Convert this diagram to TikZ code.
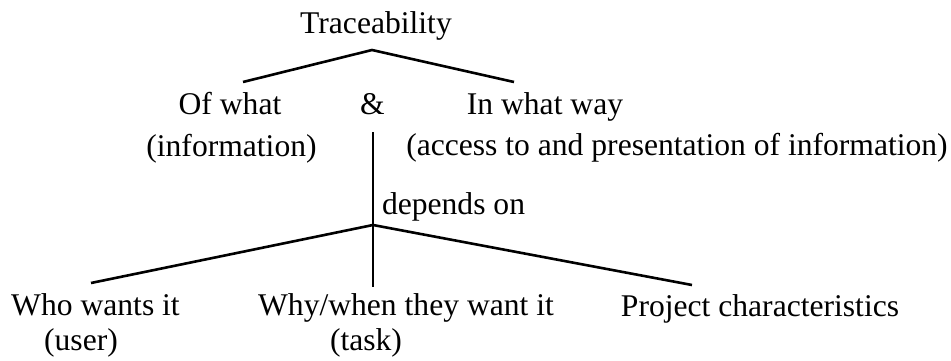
\documentclass[tikz,border=0pt]{standalone}
\usepackage{fontspec}
\setmainfont{Liberation Serif}
\begin{document}
\begin{tikzpicture}[x=1pt,y=-1pt,
  lbl/.style={inner sep=0pt,outer sep=0pt,anchor=base,font=\fontsize{31.6}{36}\selectfont},
  branch/.style={line width=2.6pt,line cap=butt,line join=miter}]
\useasboundingbox (0,0) rectangle (951,361);
% texts
\node[lbl] (trace) at (376,34) {Traceability};
\node[lbl] (ofwhat) at (230,114) {Of what};
\node[lbl] (amp) at (372.5,114) {\&};
\node[lbl] (inway) at (545,114) {In what way};
\node[lbl] (info) at (231.5,156) {(information)};
\node[lbl] (access) at (677,155) {(access to and presentation of information)};
\node[lbl,anchor=base west] (dep) at (382,214) {depends on};
\node[lbl] (who) at (95.5,315) {Who wants it};
\node[lbl] (user) at (81,350) {(user)};
\node[lbl] (why) at (406,315) {Why/when they want it};
\node[lbl] (task) at (366,350) {(task)};
\node[lbl] (proj) at (760,316) {Project characteristics};
% branch points
\coordinate (apex) at (372,50);
\coordinate (aleft) at (243,82);
\coordinate (aright) at (514,82);
\coordinate (vtop) at (373,132);
\coordinate (junc) at (373,225);
\coordinate (vbot) at (373,287);
\coordinate (bleft) at (91,283);
\coordinate (bright) at (692,285);
% connectors
\draw[branch] (aleft) -- (apex) -- (aright);
\draw[branch] (vtop) -- (junc) -- (vbot);
\draw[branch] (bleft) -- (junc) -- (bright);
\end{tikzpicture}
\end{document}
